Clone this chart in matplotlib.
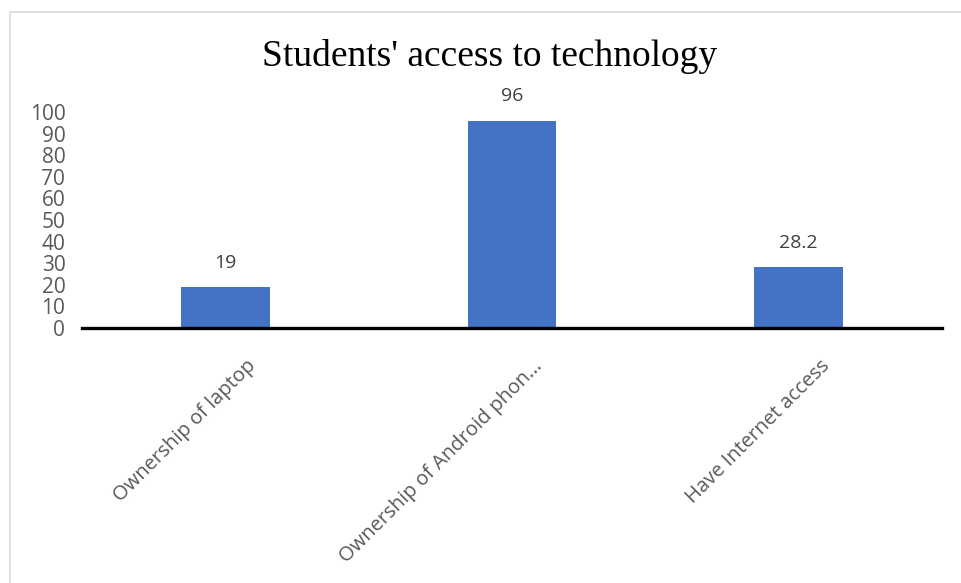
import matplotlib.pyplot as plt
import matplotlib.transforms as mtransforms
from matplotlib.patches import Rectangle

# Data
categories = ["Ownership of laptop", "Ownership of Android phon...", "Have Internet access"]
values = [19, 96, 28.2]
value_labels = ["19", "96", "28.2"]
yticks = [0, 10, 20, 30, 40, 50, 60, 70, 80, 90, 100]

plt.rcParams['font.family'] = ['Open Sans', 'DejaVu Sans']

fig = plt.figure(figsize=(9.61, 5.83), dpi=100)

# light chart border
fig.patches.append(Rectangle((10 / 961, -0.1), 1.2, 1.1 - 12 / 583,
                             transform=fig.transFigure, fill=False,
                             edgecolor='#d9d9d9', linewidth=1.2))

ax = fig.add_axes([82 / 961, 1 - 328 / 583, 860 / 961, (328 - 112) / 583])

x = range(len(categories))
bars = ax.bar(x, values, width=0.31, color='#4472C4', zorder=2)
ax.bar_label(bars, labels=value_labels, padding=11, fontsize=14, color='#404040')

ax.set_xlim(-0.5, 2.5)
ax.set_ylim(0, 100)
ax.set_yticks(yticks)
ax.set_yticklabels([str(t) for t in yticks], fontsize=15, color='#595959')
ax.tick_params(axis='y', length=0, pad=12)
ax.tick_params(axis='x', length=0)

for s in ['top', 'right', 'left']:
    ax.spines[s].set_visible(False)
ax.spines['bottom'].set_linewidth(2.4)
ax.spines['bottom'].set_color('black')
ax.spines['bottom'].set_zorder(3)

ax.set_xticks(list(x))
ax.set_xticklabels(categories, rotation=45, ha='right', va='center',
                   rotation_mode='anchor', fontsize=14.5, color='#595959')
offset = mtransforms.ScaledTranslation(28 / 100, -30 / 100, fig.dpi_scale_trans)
for lbl in ax.get_xticklabels():
    lbl.set_transform(lbl.get_transform() + offset)

fig.text(490 / 961, 1 - 57 / 583, "Students' access to technology",
         ha='center', va='center', fontsize=27, family='Liberation Serif')

fig.savefig("out.png", dpi=100)
